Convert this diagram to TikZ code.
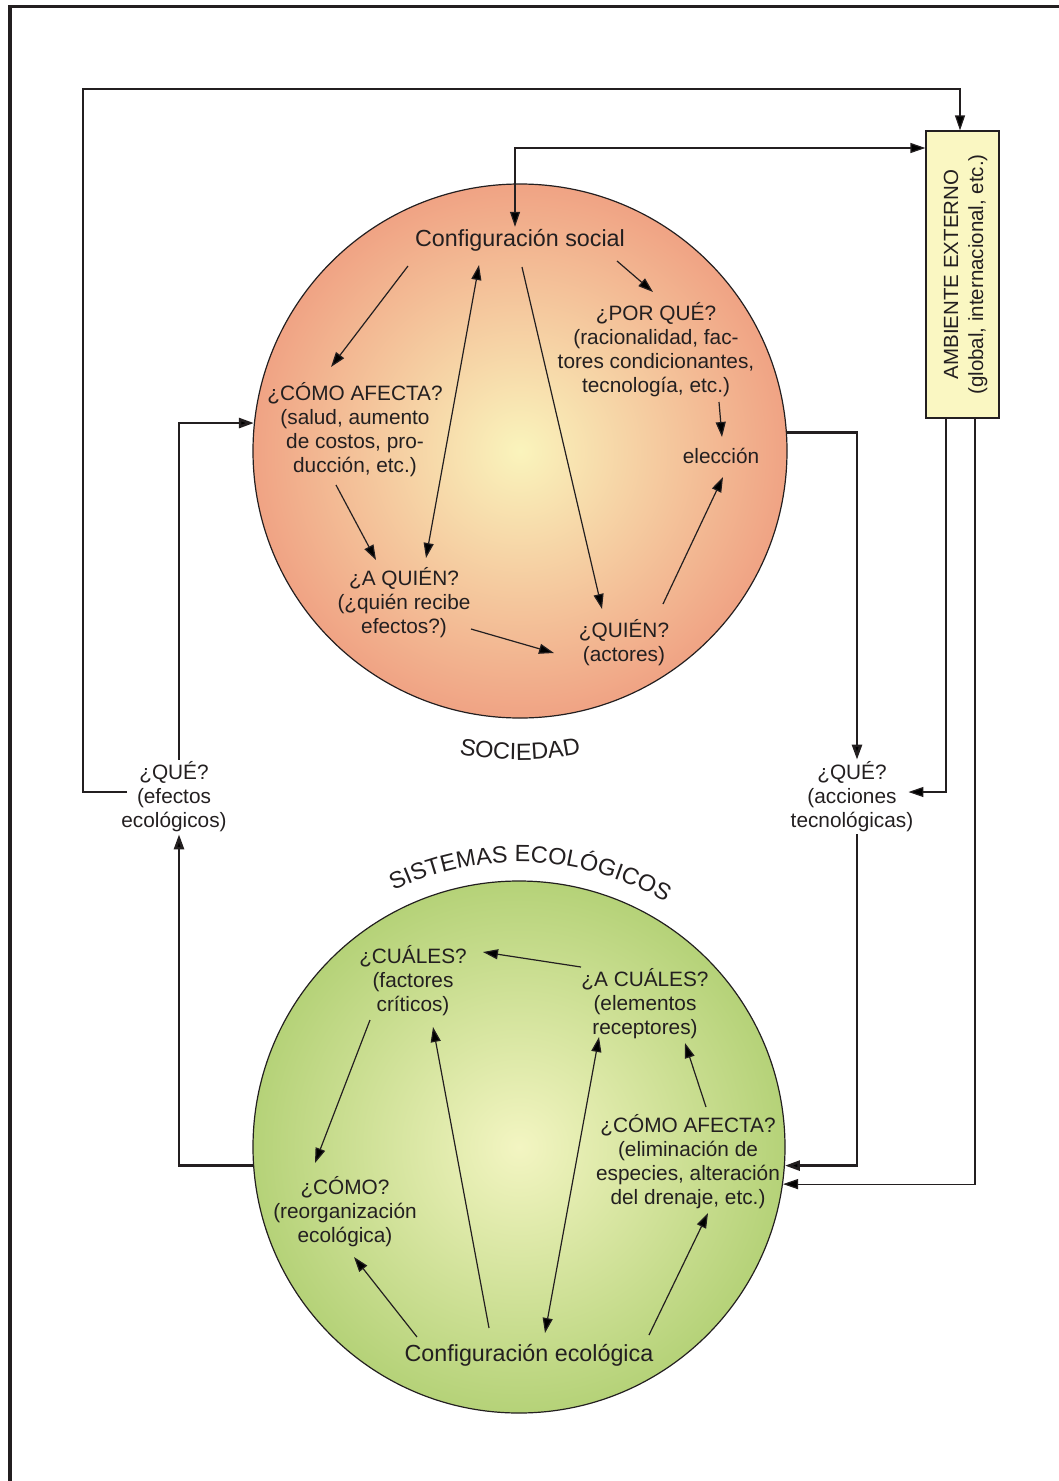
\documentclass[tikz,border=0pt]{standalone}
\usepackage{fontspec}
\setmainfont{Liberation Sans}
\usetikzlibrary{arrows.meta,decorations.text}
\definecolor{ink}{HTML}{231F20}
\definecolor{salmon}{HTML}{F0A384}
\definecolor{paleyellow}{HTML}{FAF4BC}
\definecolor{leaf}{HTML}{B5D278}
\definecolor{paleleaf}{HTML}{F3F5C2}
\definecolor{boxfill}{HTML}{FAF7C2}
\begin{document}
\begin{tikzpicture}[x=1pt,y=-1pt,
  txt/.style={font=\fontsize{20.8}{24}\selectfont, align=center, text=ink, inner sep=2pt},
  title/.style={font=\fontsize{23.3}{26}\selectfont, text=ink, inner sep=2pt},
  tip/.tip={Triangle[length=15pt,width=10pt]},
  arr/.style={-tip, line width=1.2pt, draw=ink},
  darr/.style={tip-tip, line width=1.2pt, draw=ink},
  heavy/.style={-tip, line width=2.6pt, draw=ink},
  sphere/.style={circle, inner sep=0pt, draw=ink, line width=1.2pt},
  arctext/.style={decorate, decoration={text along path, text align=center, text color=ink}}
]
\useasboundingbox (0,0) rectangle (1058,1481);

% page frame
\draw[ink, line width=3.8pt, line join=miter] (10,1495) |- (1075,6.5);

% the two spheres
\node[sphere, minimum size=534pt, inner color=paleyellow, outer color=salmon] (soc) at (520,451) {};
\node[sphere, minimum size=532pt, inner color=paleleaf, outer color=leaf] (eco) at (519,1147) {};

% curved captions
\path[arctext, decoration={text={|\fontsize{23.5}{26}\selectfont|SOCIEDAD}}]
  (520,451) ++(110:309) arc[start angle=110, end angle=70, radius=309];
\path[arctext, decoration={text={|\fontsize{23.5}{26}\selectfont|SISTEMAS ECOLÓGICOS}}]
  (519,1147) ++(-118.6:285) arc[start angle=-118.6, end angle=-56.6, radius=285];

% external environment
\node[draw=ink, line width=1.2pt, fill=boxfill, minimum width=73pt, minimum height=287pt, inner sep=0pt] (amb) at (962.5,274.5) {};
\node[txt, font=\fontsize{20.5}{25}\selectfont, rotate=90] (ambt) at ([xshift=3pt]amb.center) {AMBIENTE EXTERNO\\(global, internacional, etc.)};

% society
\node[title] (cs) at (520,240) {Configuración social};
\node[txt] (pq) at (656,350) {¿POR QUÉ?\\(racionalidad, fac-\\tores condicionantes,\\tecnología, etc.)};
\node[txt] (el) at (721,456) {elección};
\node[txt] (ca) at (355,430) {¿CÓMO AFECTA?\\(salud, aumento\\de costos, pro-\\ducción, etc.)};
\node[txt] (aq) at (404,603) {¿A QUIÉN?\\(¿quién recibe\\efectos?)};
\node[txt] (qn) at (624,643) {¿QUIÉN?\\(actores)};

% ecological systems
\node[txt] (cu) at (413,981) {¿CUÁLES?\\(factores\\críticos)};
\node[txt] (acu) at (645,1004) {¿A CUÁLES?\\(elementos\\receptores)};
\node[txt] (ca2) at (688,1162) {¿CÓMO AFECTA?\\(eliminación de\\especies, alteración\\del drenaje, etc.)};
\node[txt] (cm) at (345,1212) {¿CÓMO?\\(reorganización\\ecológica)};
\node[title] (ce) at (529,1355) {Configuración ecológica};

% links between the spheres
\node[txt] (qe) at (174,797) {¿QUÉ?\\(efectos\\ecológicos)};
\node[txt] (qa) at (852,797) {¿QUÉ?\\(acciones\\tecnológicas)};

% arrows inside society
\draw[arr] ([shift={(-112,26)}]cs.center) -- ([shift={(-24,-63)}]ca.center);
\draw[arr] ([shift={(-19,55)}]ca.center) -- ([shift={(-28,-43)}]aq.center);
\draw[darr] ([shift={(22,-45)}]aq.center) -- ([shift={(-41,25)}]cs.center);
\draw[arr] ([shift={(2,27)}]cs.center) -- ([shift={(-22,-34)}]qn.center);
\draw[arr] ([shift={(67,26)}]aq.center) -- ([shift={(-70,10)}]qn.center);
\draw[arr] ([shift={(39,-39)}]qn.center) -- ([shift={(2,21)}]el.center);
\draw[arr] ([shift={(97,21)}]cs.center) -- ([shift={(-3,-58)}]pq.center);
\draw[arr] ([shift={(63,52)}]pq.center) -- ([shift={(1,-19)}]el.center);

% arrows inside ecological systems
\draw[arr] ([shift={(-64,-37)}]acu.center) -- ([shift={(70,-29)}]cu.center);
\draw[arr] ([shift={(-43,39)}]cu.center) -- ([shift={(-30,-49)}]cm.center);
\draw[arr] ([shift={(-40,-27)}]ce.center) -- ([shift={(20,46)}]cu.center);
\draw[darr] ([shift={(16,-22)}]ce.center) -- ([shift={(-46,33)}]acu.center);
\draw[arr] ([shift={(-112,-18)}]ce.center) -- ([shift={(9,45)}]cm.center);
\draw[arr] ([shift={(120,-20)}]ce.center) -- ([shift={(20,51)}]ca2.center);
\draw[arr] ([shift={(18,-55)}]ca2.center) -- ([shift={(40,39)}]acu.center);

% outer loops
\coordinate (tl) at (83,89);
\draw[arr] ([xshift=8pt,yshift=5pt]qe.west) -| (tl) -| ([xshift=-2.5pt]amb.north);
\draw[darr] ([xshift=-5pt]cs.north) |- ([yshift=126.5pt]amb.west);
\draw[heavy] (soc.4) -| ([xshift=5pt]qa.north);
\draw[heavy] ([xshift=5pt]qa.south) |- (eco.-4);
\draw[arr] ([xshift=-16.5pt]amb.south) |- ([xshift=-7pt,yshift=5pt]qa.east);
\draw[arr] ([xshift=12.5pt]amb.south) |- (eco.-8);
\draw[heavy] (eco.184) -| ([xshift=5pt]qe.south);
\draw[heavy] ([xshift=5pt]qe.north) |- (soc.174);
\end{tikzpicture}
\end{document}
